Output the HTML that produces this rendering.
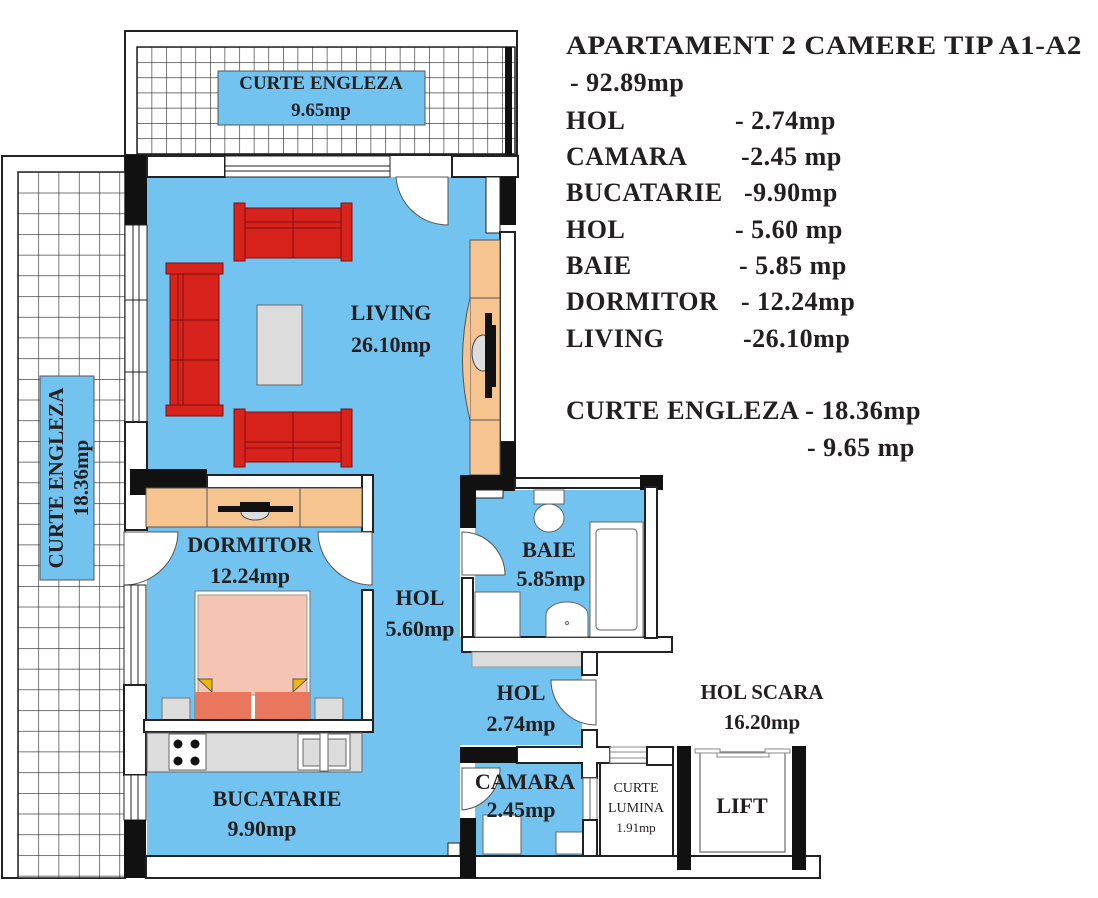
<!DOCTYPE html>
<html><head><meta charset="utf-8"><style>
html,body{margin:0;padding:0;background:#fff;}
svg{display:block;}
text{font-family:"Liberation Serif",serif;font-weight:bold;fill:#231f20;}
</style></head><body>
<svg width="1098" height="898" viewBox="0 0 1098 898" xmlns="http://www.w3.org/2000/svg">
<defs>
<pattern id="g1" x="137" y="47" width="14.6" height="15.2" patternUnits="userSpaceOnUse">
<rect width="14.6" height="15.2" fill="#fff"/><path d="M0 0H14.6M0 0V15.2" stroke="#222" stroke-width="1.2" fill="none"/></pattern>
<pattern id="g2" x="18" y="172" width="20.3" height="20.7" patternUnits="userSpaceOnUse">
<rect width="20.3" height="20.7" fill="#fff"/><path d="M0 0H20.3M0 0V20.7" stroke="#222" stroke-width="1.2" fill="none"/></pattern>
</defs>

<!-- top courtyard -->
<rect x="125" y="31" width="392" height="124" fill="#fff" stroke="#222" stroke-width="2"/>
<rect x="137" y="47" width="378" height="107" fill="url(#g1)" stroke="#222" stroke-width="1.5"/>
<rect x="505" y="47" width="7" height="108" fill="#111"/>
<rect x="218" y="71" width="207" height="54" fill="#72c3ef" stroke="#555"/>
<text x="321" y="89" font-size="19" text-anchor="middle">CURTE ENGLEZA</text>
<text x="321" y="116" font-size="19" text-anchor="middle">9.65mp</text>

<!-- left courtyard -->
<rect x="2" y="156" width="123" height="722" fill="#fff" stroke="#222" stroke-width="2"/>
<rect x="18" y="172" width="107" height="706" fill="url(#g2)" stroke="#222" stroke-width="1.5"/>
<rect x="40" y="376" width="54" height="204" fill="#72c3ef" stroke="#555"/>
<text transform="translate(63,478) rotate(-90)" font-size="21" text-anchor="middle">CURTE ENGLEZA</text>
<text transform="translate(88,478) rotate(-90)" font-size="21" text-anchor="middle">18.36mp</text>

<!-- blue floor -->
<path d="M147 177H500V475H460V637H472V665H582V745H460V855H147Z" fill="#72c3ef"/>
<rect x="475" y="490" width="170" height="148" fill="#72c3ef"/>
<rect x="475" y="760" width="110" height="96" fill="#72c3ef"/>

<!-- living top wall -->
<rect x="125" y="155" width="22" height="70" fill="#111"/>
<rect x="147" y="156" width="78" height="21" fill="#fff" stroke="#222" stroke-width="2"/>
<rect x="225" y="156" width="165" height="21" fill="#fff" stroke="#222" stroke-width="1"/>
<line x1="225" y1="166" x2="390" y2="166" stroke="#222" stroke-width="1"/>
<line x1="225" y1="171" x2="390" y2="171" stroke="#222" stroke-width="1"/>
<rect x="452" y="156" width="66" height="21" fill="#fff" stroke="#222" stroke-width="2"/>
<path d="M396 177H448V225A52 52 0 0 1 396 177Z" fill="#fff" stroke="#555"/>
<!-- left wall living -->
<rect x="125" y="225" width="22" height="197" fill="#fff" stroke="#222"/>
<line x1="133" y1="225" x2="133" y2="422" stroke="#222"/>
<line x1="139" y1="225" x2="139" y2="422" stroke="#222"/>
<line x1="125" y1="300" x2="147" y2="300" stroke="#222"/>
<line x1="125" y1="372" x2="147" y2="372" stroke="#222"/>
<rect x="125" y="422" width="22" height="108" fill="#fff" stroke="#222" stroke-width="2"/>
<!-- right wall living -->
<rect x="500" y="177" width="16" height="48" fill="#111"/>
<rect x="486" y="177" width="14" height="56" fill="#fff" stroke="#222"/>
<rect x="500" y="232" width="15" height="210" fill="#fff" stroke="#222" stroke-width="2"/>
<rect x="500" y="442" width="16" height="45" fill="#111"/>
<!-- fireplace/tv cabinet -->
<rect x="470" y="240" width="30" height="235" fill="#f6c48e" stroke="#555"/>
<path d="M470 298Q455 360 470 420" fill="#f6c48e" stroke="#555"/>
<line x1="470" y1="298" x2="500" y2="298" stroke="#555"/>
<line x1="470" y1="420" x2="500" y2="420" stroke="#555"/>
<ellipse cx="483" cy="353" rx="11" ry="18" fill="#ddd" stroke="#444"/>
<rect x="485" y="313" width="7" height="85" fill="#111"/>
<rect x="492" y="325" width="4" height="62" fill="#111"/>

<!-- sofas -->
<g fill="#d8231c" stroke="#7a1010" stroke-width="1">
<rect x="234" y="203" width="11" height="58"/><rect x="341" y="203" width="11" height="58"/>
<rect x="245" y="208" width="96" height="50"/><line x1="245" y1="222" x2="341" y2="222"/><line x1="245" y1="228" x2="341" y2="228"/><line x1="293" y1="208" x2="293" y2="258"/>
<rect x="234" y="409" width="11" height="58"/><rect x="341" y="409" width="11" height="58"/>
<rect x="245" y="412" width="96" height="50"/><line x1="245" y1="442" x2="341" y2="442"/><line x1="245" y1="448" x2="341" y2="448"/><line x1="293" y1="412" x2="293" y2="462"/>
<rect x="166" y="263" width="57" height="11"/><rect x="166" y="405" width="57" height="11"/>
<rect x="170" y="274" width="49" height="131"/><line x1="178" y1="274" x2="178" y2="405"/><line x1="183" y1="274" x2="183" y2="405"/><line x1="170" y1="320" x2="219" y2="320"/><line x1="170" y1="360" x2="219" y2="360"/>
</g>
<rect x="257" y="305" width="45" height="80" fill="#dcdcdc" stroke="#666"/>
<text x="391" y="320" font-size="22" text-anchor="middle">LIVING</text>
<text x="391" y="352" font-size="22" text-anchor="middle">26.10mp</text>

<!-- bedroom -->
<rect x="130" y="469" width="77" height="26" fill="#111"/>
<rect x="207" y="475" width="165" height="13" fill="#fff" stroke="#222" stroke-width="2"/>
<rect x="362" y="475" width="11" height="57" fill="#fff" stroke="#222" stroke-width="2"/>
<rect x="146" y="488" width="216" height="39" fill="#f6c48e" stroke="#555"/>
<line x1="207" y1="488" x2="207" y2="527" stroke="#555"/><line x1="300" y1="488" x2="300" y2="527" stroke="#555"/>
<ellipse cx="255" cy="512" rx="14" ry="8" fill="#ddd" stroke="#444"/>
<rect x="218" y="506" width="75" height="6" fill="#111"/><rect x="240" y="502" width="30" height="5" fill="#111"/>
<path d="M124 532H178A54 54 0 0 1 124 585Z" fill="#fff" stroke="#555"/>
<path d="M372 532H318A54 54 0 0 0 372 585Z" fill="#fff" stroke="#555"/>
<rect x="124" y="585" width="22" height="100" fill="#fff" stroke="#222"/>
<line x1="131" y1="585" x2="131" y2="685" stroke="#222"/><line x1="138" y1="585" x2="138" y2="685" stroke="#222"/>
<rect x="124" y="685" width="22" height="90" fill="#fff" stroke="#222" stroke-width="2"/>
<rect x="124" y="775" width="22" height="45" fill="#fff" stroke="#222"/>
<line x1="131" y1="775" x2="131" y2="820" stroke="#222"/><line x1="138" y1="775" x2="138" y2="820" stroke="#222"/>
<rect x="124" y="820" width="22" height="58" fill="#111"/>
<rect x="362" y="590" width="11" height="142" fill="#fff" stroke="#222" stroke-width="2"/>
<text x="250" y="552" font-size="22" text-anchor="middle">DORMITOR</text>
<text x="250" y="583" font-size="22" text-anchor="middle">12.24mp</text>
<rect x="195" y="591" width="115" height="130" fill="#fff" stroke="#777"/>
<rect x="198" y="595" width="109" height="100" fill="#f5c4b3" stroke="#999"/>
<path d="M198 679L212 679L212 692Z" fill="#f1b700" stroke="#555"/>
<path d="M307 679L293 679L293 692Z" fill="#f1b700" stroke="#555"/>
<rect x="195" y="692" width="56" height="29" fill="#e8775e"/><rect x="255" y="692" width="55" height="29" fill="#e8775e"/>
<rect x="162" y="698" width="28" height="23" fill="#dcdcdc" stroke="#777"/>
<rect x="315" y="698" width="28" height="23" fill="#dcdcdc" stroke="#777"/>
<rect x="144" y="720" width="229" height="12" fill="#fff" stroke="#222" stroke-width="2"/>

<!-- kitchen -->
<rect x="147" y="733" width="215" height="39" fill="#dcdcdc" stroke="#666"/>
<rect x="169" y="734" width="37" height="36" fill="#fff" stroke="#666"/>
<circle cx="178" cy="744" r="4.5" fill="#111"/><circle cx="195" cy="744" r="4.5" fill="#111"/>
<circle cx="178" cy="761" r="4.5" fill="#111"/><circle cx="195" cy="761" r="4.5" fill="#111"/>
<rect x="298" y="734" width="52" height="36" fill="#fff" stroke="#666"/>
<rect x="303" y="739" width="19" height="27" fill="#dcdcdc" stroke="#666"/><rect x="327" y="739" width="19" height="27" fill="#dcdcdc" stroke="#666"/>
<rect x="320" y="733" width="8" height="38" fill="#fff" stroke="#666"/>
<text x="277" y="806" font-size="22" text-anchor="middle">BUCATARIE</text>
<text x="262" y="836" font-size="22" text-anchor="middle">9.90mp</text>

<!-- hall -->
<text x="420" y="605" font-size="22" text-anchor="middle">HOL</text>
<text x="420" y="636" font-size="22" text-anchor="middle">5.60mp</text>

<!-- bath -->
<rect x="460" y="475" width="55" height="16" fill="#111"/>
<rect x="515" y="478" width="126" height="10" fill="#fff" stroke="#222" stroke-width="2"/>
<rect x="640" y="475" width="23" height="15" fill="#111"/>
<rect x="460" y="490" width="16" height="38" fill="#111"/>
<path d="M476 490H503V498H476" fill="#fff" stroke="#222"/>
<path d="M462 532V575H505A43 43 0 0 0 462 532Z" fill="#fff" stroke="#555"/>
<rect x="462" y="578" width="11" height="74" fill="#fff" stroke="#222" stroke-width="2"/>
<rect x="462" y="637" width="210" height="15" fill="#fff" stroke="#222" stroke-width="2"/>
<rect x="645" y="487" width="12" height="151" fill="#fff" stroke="#222" stroke-width="2"/>
<rect x="590" y="522" width="53" height="115" fill="#fff" stroke="#666"/>
<rect x="596" y="529" width="41" height="101" rx="4" fill="#fff" stroke="#666"/>
<rect x="534" y="490" width="30" height="14" fill="#fff" stroke="#666"/>
<ellipse cx="549" cy="518" rx="15" ry="14" fill="#fff" stroke="#666"/>
<path d="M546 637V615A21 13 0 0 1 588 615V637Z" fill="#fff" stroke="#666"/>
<circle cx="567" cy="623" r="1.5" fill="none" stroke="#666"/>
<rect x="475" y="592" width="45" height="45" fill="#fff" stroke="#666"/>
<text x="549" y="557" font-size="22" text-anchor="middle">BAIE</text>
<text x="551" y="586" font-size="22" text-anchor="middle">5.85mp</text>

<!-- small hall -->
<rect x="472" y="652" width="110" height="15" fill="#dcdcdc" stroke="#999"/>
<rect x="582" y="652" width="15" height="23" fill="#fff" stroke="#222" stroke-width="2"/>
<path d="M596 680V725A45 45 0 0 1 551 680Z" fill="#fff" stroke="#555"/>
<text x="521" y="700" font-size="22" text-anchor="middle">HOL</text>
<text x="521" y="731" font-size="22" text-anchor="middle">2.74mp</text>
<path d="M582 730H597V747H610V763H597V778H582V763H517V747H582Z" fill="#fff" stroke="#222" stroke-width="2"/>
<rect x="460" y="747" width="57" height="16" fill="#111"/>
<!-- camara -->
<path d="M462 768V810A42 42 0 0 0 500 768Z" fill="#fff" stroke="#555"/>
<rect x="448" y="843" width="12" height="13" fill="#fff" stroke="#222"/>
<rect x="483" y="815" width="38" height="39" fill="#fff" stroke="#666"/>
<rect x="556" y="832" width="27" height="22" fill="#fff" stroke="#666"/>
<rect x="583" y="778" width="14" height="42" fill="#fff" stroke="#666"/>
<line x1="590" y1="778" x2="590" y2="820" stroke="#666"/>
<rect x="583" y="820" width="14" height="36" fill="#fff" stroke="#222" stroke-width="2"/>
<text x="525" y="789" font-size="22" text-anchor="middle">CAMARA</text>
<text x="521" y="817" font-size="22" text-anchor="middle">2.45mp</text>

<!-- curte lumina & lift -->
<rect x="600" y="763" width="73" height="93" fill="#fff" stroke="#222" stroke-width="2"/>
<rect x="610" y="747" width="40" height="16" fill="#fff" stroke="#888"/>
<line x1="610" y1="752" x2="650" y2="752" stroke="#888"/><line x1="610" y1="758" x2="650" y2="758" stroke="#888"/>
<rect x="647" y="747" width="26" height="18" fill="#fff" stroke="#222" stroke-width="2"/>
<text x="636" y="792" font-size="14" text-anchor="middle" style="font-weight:normal">CURTE</text>
<text x="636" y="812" font-size="14" text-anchor="middle" style="font-weight:normal">LUMINA</text>
<text x="636" y="832" font-size="13" text-anchor="middle" style="font-weight:normal">1.91mp</text>
<rect x="700" y="752" width="85" height="100" fill="#fff" stroke="#888" stroke-width="1.5"/>
<rect x="695" y="749" width="25" height="4" fill="#fff" stroke="#888"/>
<rect x="765" y="749" width="25" height="4" fill="#fff" stroke="#888"/>
<rect x="717" y="753" width="52" height="4" fill="#fff" stroke="#888"/>
<text x="742" y="813" font-size="22" text-anchor="middle">LIFT</text>
<text x="762" y="699" font-size="21" text-anchor="middle">HOL SCARA</text>
<text x="762" y="729" font-size="21" text-anchor="middle">16.20mp</text>

<!-- bottom wall -->
<path d="M146 856H820V878H146Z" fill="#fff" stroke="#222" stroke-width="2"/>
<rect x="677" y="746" width="14" height="124" fill="#111"/>
<rect x="792" y="746" width="14" height="124" fill="#111"/>
<rect x="460" y="818" width="16" height="60" fill="#111"/>

<!-- legend -->
<g font-size="26" letter-spacing="0.5">
<text x="566" y="54" textLength="516" lengthAdjust="spacingAndGlyphs">APARTAMENT 2 CAMERE TIP A1-A2</text>
<text x="570" y="91">- 92.89mp</text>
<text x="566" y="129">HOL</text><text x="735" y="129">- 2.74mp</text>
<text x="566" y="165">CAMARA</text><text x="741" y="165">-2.45 mp</text>
<text x="566" y="201">BUCATARIE</text><text x="744" y="201">-9.90mp</text>
<text x="566" y="238">HOL</text><text x="735" y="238">- 5.60 mp</text>
<text x="566" y="274">BAIE</text><text x="739" y="274">- 5.85 mp</text>
<text x="566" y="310">DORMITOR</text><text x="741" y="310">- 12.24mp</text>
<text x="566" y="347">LIVING</text><text x="743" y="347">-26.10mp</text>
<text x="566" y="419" textLength="355" lengthAdjust="spacingAndGlyphs">CURTE ENGLEZA - 18.36mp</text>
<text x="807" y="456">-  9.65 mp</text>
</g>
</svg>
</body></html>
